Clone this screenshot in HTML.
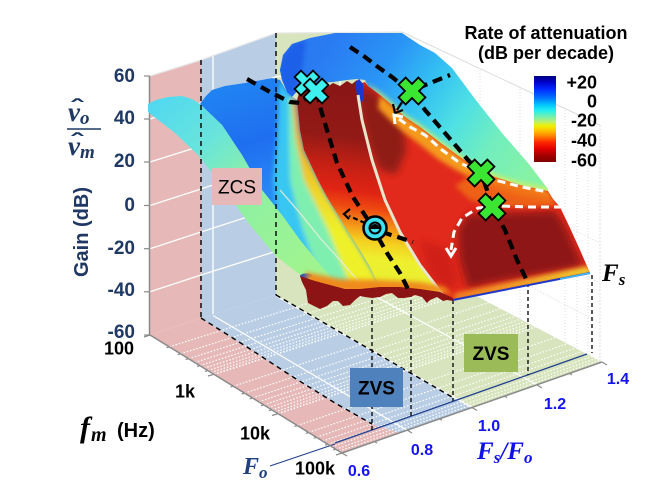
<!DOCTYPE html>
<html><head><meta charset="utf-8">
<style>
html,body{margin:0;padding:0;background:#fff;}
svg{display:block;}
text{font-family:"Liberation Sans",sans-serif;}
.sr{font-family:"Liberation Serif",serif;font-style:italic;font-weight:bold;}
</style></head><body>
<svg width="670" height="500" viewBox="0 0 670 500" xmlns="http://www.w3.org/2000/svg">
<defs>
<linearGradient id="cb" x1="0" y1="0" x2="0" y2="1">
<stop offset="0" stop-color="#00007f"/><stop offset=".07" stop-color="#0000c8"/><stop offset=".15" stop-color="#0028ff"/><stop offset=".25" stop-color="#0070ff"/><stop offset=".33" stop-color="#00c0ff"/><stop offset=".4" stop-color="#20f0f0"/><stop offset=".47" stop-color="#70f0b0"/><stop offset=".53" stop-color="#b8f070"/><stop offset=".58" stop-color="#f0f000"/><stop offset=".64" stop-color="#ffc000"/><stop offset=".7" stop-color="#ff8000"/><stop offset=".77" stop-color="#ff2800"/><stop offset=".85" stop-color="#e00000"/><stop offset=".93" stop-color="#a00000"/><stop offset="1" stop-color="#800000"/>
</linearGradient>
<linearGradient id="gS1" gradientUnits="userSpaceOnUse" x1="150" y1="100" x2="300" y2="270">
<stop offset="0" stop-color="#50d8f2"/><stop offset=".3" stop-color="#68e4dc"/><stop offset=".55" stop-color="#8cf0a4"/><stop offset="1" stop-color="#a0f490"/>
</linearGradient>
<linearGradient id="gS2" gradientUnits="userSpaceOnUse" x1="240" y1="80" x2="280" y2="200">
<stop offset="0" stop-color="#2084f2"/><stop offset=".5" stop-color="#1f6ef0"/><stop offset="1" stop-color="#2a8ef6"/>
</linearGradient>
<linearGradient id="gY" gradientUnits="userSpaceOnUse" x1="0" y1="100" x2="0" y2="230">
<stop offset="0" stop-color="#f09020"/><stop offset="1" stop-color="#eef02c"/>
</linearGradient>
<linearGradient id="gS3" gradientUnits="userSpaceOnUse" x1="360" y1="90" x2="335" y2="290">
<stop offset="0" stop-color="#8a1616"/><stop offset=".24" stop-color="#921a16"/><stop offset=".38" stop-color="#c42014"/><stop offset=".5" stop-color="#e02414"/><stop offset=".58" stop-color="#ee4a10"/><stop offset=".66" stop-color="#f49018"/><stop offset=".74" stop-color="#f4d020"/><stop offset=".82" stop-color="#eef02e"/><stop offset=".94" stop-color="#e8ee30"/><stop offset="1" stop-color="#f0b020"/>
</linearGradient>
<linearGradient id="gS5" gradientUnits="userSpaceOnUse" x1="330" y1="40" x2="525" y2="180">
<stop offset="0" stop-color="#2a7af2"/><stop offset=".25" stop-color="#2a94f6"/><stop offset=".45" stop-color="#34c2f2"/><stop offset=".62" stop-color="#4ee0e4"/><stop offset=".8" stop-color="#72eebe"/><stop offset="1" stop-color="#86f2a6"/>
</linearGradient>
<linearGradient id="gEdge" gradientUnits="userSpaceOnUse" x1="455" y1="0" x2="590" y2="0">
<stop offset="0" stop-color="#f08020"/><stop offset="1" stop-color="#f0d030"/>
</linearGradient>
<filter id="bl" x="-20%" y="-20%" width="140%" height="140%"><feGaussianBlur stdDeviation="2.5"/></filter>
<filter id="bl2" x="-20%" y="-20%" width="140%" height="140%"><feGaussianBlur stdDeviation="4"/></filter>
<clipPath id="cS2"><polygon points="200,104 206,96 212,90 225,86 245,83 262,80 272,78 280,80 287,92 292,97 297,100 300,130 304,150 310,163 318,180 327,197 338,215 347,230 360,250 370,267 380,285 335,285 318,262 300,240 282,215 262,190 242,155 222,125"/></clipPath>
<clipPath id="cS4"><polygon points="357,85 365,82 368,86 380,95 393,106 405,117 420,127 442,144 460,157 475,167 495,177 520,185 548,191 553,199 560,207 570,228 580,250 590,273 453,300 445,297 420,265 400,232 385,200 372,160 362,120 358,95"/></clipPath>
<clipPath id="cS5"><polygon points="280,70 283,55 292,44 310,38 335,33 402,33 420,45 435,53 452,68 475,99 502,133 528,163 548,189 548,191 520,185 495,177 475,167 460,157 442,144 420,127 405,117 393,106 380,95 368,86 365,80 357,79 347,80 333,82 318,83 306,85 298,90 292,97 287,92 282,80"/></clipPath>
</defs>

<rect width="670" height="500" fill="#fff"/>

<!-- right wall faint grid -->
<g stroke="#dcdcdc" stroke-width="1" fill="none">
<line x1="402" y1="32" x2="600" y2="125"/>
<line x1="480" y1="70" x2="480" y2="300" stroke-dasharray="1 2"/>
<line x1="520" y1="89" x2="520" y2="320" stroke-dasharray="1 2"/>
<line x1="565" y1="110" x2="565" y2="345" stroke-dasharray="1 2"/>
<line x1="577" y1="115" x2="577" y2="350" stroke-dasharray="1 2"/>
<line x1="588" y1="120" x2="588" y2="356" stroke-dasharray="1 2"/>
<line x1="600" y1="125" x2="600" y2="362" stroke-dasharray="2 1.5"/>
<line x1="402" y1="144" x2="600" y2="243" stroke-dasharray="1 2"/>
<line x1="402" y1="182" x2="600" y2="283" stroke-dasharray="1 2"/>
<line x1="402" y1="219" x2="600" y2="323" stroke-dasharray="1 2"/>
</g>

<!-- back walls -->
<polygon points="150,76 201,60 201,318 150,335" fill="#e6b9b8"/>
<polygon points="201,60 276,33 276,295 201,318" fill="#b9cde5"/>
<polygon points="276,33 402,32 402,257 276,295" fill="#d7e4bd"/>
<g stroke="#fff" stroke-width="1.3" fill="none">
<polyline points="150,119 201,103 276,76.7 402,69.5"/>
<polyline points="150,162 201,146 276,120.3 402,107"/>
<polyline points="150,205.5 201,189 276,164 402,144.5"/>
<polyline points="150,248.7 201,232 276,207.7 402,182"/>
<polyline points="150,291.8 201,275 276,251.3 402,219.5"/>
<line x1="213" y1="56" x2="213" y2="314"/>
<line x1="340" y1="32" x2="340" y2="276"/>
<polyline points="150,76 201,60 276,33 402,32" stroke="#e8e8e8"/>
</g>

<!-- floor -->
<polygon points="150,335 201,318 247,347 293,377 335,403 372,424 400,433 342,453" fill="#e6b9b8"/>
<polygon points="201,318 276,295 452,397 472,408 400,433 372,424 335,403 293,377 247,347" fill="#b9cde5"/>
<polygon points="276,295 402,257 602,362 472,408 452,397" fill="#d7e4bd"/>
<g stroke="#fff" stroke-width="1.2" stroke-dasharray="1.5 1.8" fill="none">
<line x1="169.3" y1="346.8" x2="422.1" y2="267.5"/>
<line x1="180.5" y1="353.8" x2="433.8" y2="273.7"/>
<line x1="188.5" y1="358.7" x2="442.1" y2="278.1"/>
<line x1="194.7" y1="362.5" x2="448.6" y2="281.5"/>
<line x1="199.8" y1="365.6" x2="453.9" y2="284.2"/>
<line x1="204.1" y1="368.2" x2="458.3" y2="286.6"/>
<line x1="207.8" y1="370.5" x2="462.2" y2="288.6"/>
<line x1="211.1" y1="372.5" x2="465.6" y2="290.4"/>
<line x1="214" y1="374.3" x2="468.7" y2="292" stroke-width="1.6"/>
<line x1="233.3" y1="386.2" x2="488.7" y2="302.5"/>
<line x1="244.5" y1="393.1" x2="500.5" y2="308.7"/>
<line x1="252.5" y1="398" x2="508.8" y2="313.1"/>
<line x1="258.7" y1="401.8" x2="515.2" y2="316.4"/>
<line x1="263.8" y1="404.9" x2="520.5" y2="319.2"/>
<line x1="268.1" y1="407.6" x2="525" y2="321.6"/>
<line x1="271.7" y1="409.8" x2="528.8" y2="323.6"/>
<line x1="275" y1="411.8" x2="532.2" y2="325.4"/>
<line x1="278" y1="413.7" x2="535.3" y2="327" stroke-width="1.6"/>
<line x1="297.3" y1="425.5" x2="555.4" y2="337.5"/>
<line x1="308.6" y1="432.5" x2="567.2" y2="343.7"/>
<line x1="316.5" y1="437.3" x2="575.4" y2="348"/>
<line x1="322.6" y1="441.1" x2="581.8" y2="351.4"/>
<line x1="327.8" y1="444.3" x2="587.2" y2="354.2"/>
<line x1="332" y1="446.9" x2="591.6" y2="356.5"/>
<line x1="335.9" y1="449.2" x2="595.6" y2="358.6"/>
<line x1="339.1" y1="451.2" x2="599" y2="360.4"/>
</g>
<g stroke="#fff" stroke-width="1.2" fill="none">
<line x1="213" y1="315.5" x2="407" y2="430.3"/>
<line x1="276" y1="296" x2="472" y2="407.5"/>
<line x1="339" y1="276.5" x2="537" y2="384.8"/>
</g>
<!-- floor boundaries -->
<g stroke="#000" stroke-width="1.4" stroke-dasharray="5 4" fill="none">
<polyline points="201,318 247,347 293,377 335,403 372,424"/>
<polyline points="276,295 452,397"/>
</g>
<line x1="335" y1="443" x2="587" y2="354" stroke="#1f3f8f" stroke-width="1.3"/>
<line x1="270" y1="466" x2="335" y2="444" stroke="#1f3f8f" stroke-width="1"/>

<!-- axes -->
<g stroke="#8a8a8a" stroke-width="1.5" fill="none">
<line x1="149.5" y1="76" x2="149.5" y2="336"/>
<line x1="150" y1="335" x2="342" y2="453"/>
<line x1="342" y1="453" x2="602" y2="362"/>
</g>
<g stroke="#8a8a8a" stroke-width="1.2">
<line x1="144" y1="76" x2="150" y2="76"/><line x1="144" y1="119" x2="150" y2="119"/><line x1="144" y1="162" x2="150" y2="162"/><line x1="144" y1="205.5" x2="150" y2="205.5"/><line x1="144" y1="248.7" x2="150" y2="248.7"/><line x1="144" y1="291.8" x2="150" y2="291.8"/><line x1="144" y1="335" x2="150" y2="335"/>
<line x1="150" y1="335" x2="144" y2="337"/><line x1="214" y1="374.3" x2="208" y2="376"/><line x1="278" y1="413.7" x2="272" y2="415.5"/><line x1="342" y1="453" x2="336" y2="455"/>
<line x1="169.3" y1="346.8" x2="166.5" y2="347.7"/><line x1="180.5" y1="353.8" x2="177.7" y2="354.7"/><line x1="188.5" y1="358.7" x2="185.7" y2="359.6"/><line x1="199.8" y1="365.6" x2="197" y2="366.5"/><line x1="207.8" y1="370.5" x2="205" y2="371.4"/>
<line x1="233.3" y1="386.2" x2="230.5" y2="387.1"/><line x1="244.5" y1="393.1" x2="241.7" y2="394"/><line x1="252.5" y1="398" x2="249.7" y2="398.9"/><line x1="263.8" y1="404.9" x2="261" y2="405.8"/><line x1="271.7" y1="409.8" x2="268.9" y2="410.7"/>
<line x1="297.3" y1="425.5" x2="294.5" y2="426.4"/><line x1="308.6" y1="432.5" x2="305.8" y2="433.4"/><line x1="316.5" y1="437.3" x2="313.7" y2="438.2"/><line x1="327.8" y1="444.3" x2="325" y2="445.2"/><line x1="335.9" y1="449.2" x2="333.1" y2="450.1"/>
<line x1="342" y1="453" x2="347" y2="456"/><line x1="407" y1="430" x2="412" y2="433"/><line x1="472" y1="407.5" x2="477" y2="410.5"/><line x1="537" y1="385" x2="542" y2="388"/><line x1="602" y1="362" x2="607" y2="365"/>
<line x1="374.5" y1="441.6" x2="377" y2="443"/><line x1="439.5" y1="418.8" x2="442" y2="420.2"/><line x1="504.5" y1="396.2" x2="507" y2="397.6"/><line x1="569.5" y1="373.4" x2="572" y2="374.8"/>
</g>

<!-- vertical drop lines -->
<g stroke="#000" stroke-width="1.3" stroke-dasharray="4 3">
<line x1="372" y1="293" x2="372" y2="430"/>
<line x1="411" y1="293" x2="411" y2="416"/>
<line x1="453" y1="300" x2="453" y2="401"/>
<line x1="528" y1="283" x2="528" y2="375"/>
<line x1="592" y1="275" x2="592" y2="353"/>
</g>

<!-- ===== SURFACE ===== -->
<!-- plateau -->
<polygon points="280,70 283,55 292,44 310,38 335,33 402,33 420,45 435,53 452,68 475,99 502,133 528,163 548,189 548,191 520,185 495,177 475,167 460,157 442,144 420,127 405,117 393,106 380,95 368,86 365,80 357,79 347,80 333,82 318,83 306,85 298,90 292,97 287,92 282,80" fill="url(#gS5)"/>
<g clip-path="url(#cS5)">
<polygon points="278,70 283,55 292,44 306,40 302,70 294,98 287,95 281,82" fill="#1a5ee8" filter="url(#bl)"/>
<polygon points="365,82 380,92 393,103 405,114 420,124 442,141 460,154 475,164 495,174 520,182 550,188 550,194 500,184 460,162 420,132 380,100" fill="#d8f060" filter="url(#bl)" opacity=".8"/>
</g>

<!-- blue band + strips -->
<g clip-path="url(#cS2)">
<rect x="195" y="70" width="200" height="220" fill="url(#gS2)"/>
<g filter="url(#bl)">
<polygon points="280,80 287,92 292,97 297,100 300,130 304,150 310,163 318,180 327,197 338,215 347,230 360,250 370,267 380,285 305,290 305,280 290,255 280,230 276,205 273,180 277,140 279,92" fill="#38c6f2"/>
<polygon points="289,96 292,97 297,100 300,130 304,150 310,163 318,180 327,197 338,215 347,230 360,250 370,267 380,285 322,290 322,280 312,255 303,230 296,205 290,180 289,140" fill="#7fefb0"/>
<polygon points="292,97 297,100 300,130 304,150 310,163 318,180 327,197 338,215 347,230 360,250 370,267 380,285 350,290 348,280 338,255 328,230 316,205 304,180 296,140" fill="url(#gY)"/>
</g>
</g>

<!-- left valley -->
<polygon points="297,100 300,90 306,86 312,90 318,84 326,88 333,83 340,86 347,81 352,84 357,80 361,90 358,95 362,120 372,160 385,200 400,232 420,265 445,298 380,288 370,267 360,250 347,230 338,215 327,197 318,180 310,163 304,150 300,130" fill="url(#gS3)"/>

<!-- right-of-pale region -->
<polygon points="357,85 365,82 368,86 380,95 393,106 405,117 420,127 442,144 460,157 475,167 495,177 520,185 548,191 553,199 560,207 570,228 580,250 590,273 453,300 445,297 420,265 400,232 385,200 372,160 362,120 358,95" fill="#e22a1c"/>
<g clip-path="url(#cS4)">
<polygon points="355,82 372,90 392,108 404,128 406,152 396,174 380,170 370,150 361,120" fill="#901a17" filter="url(#bl2)"/>
<polygon points="380,95 393,106 405,117 420,127 442,144 460,157 475,167 495,177 520,185 548,191 552,202 520,196 495,188 475,180 456,170 438,159 418,143 402,131 390,120 378,108" fill="#f49a1e" filter="url(#bl)"/>
<polygon points="470,175 548,194 558,206 525,208 495,206 470,200 455,186" fill="#f06a18" filter="url(#bl)" opacity=".85"/>
<polygon points="468,214 555,211 565,226 578,255 583,266 540,274 495,282 468,288 460,260 458,230" fill="#8e1616" filter="url(#bl2)"/>
<polygon points="420,240 450,250 458,280 448,292 430,275" fill="#c81a16" filter="url(#bl2)" opacity=".7"/>
<polygon points="455,293 588,266 592,274 453,301" fill="url(#gEdge)" filter="url(#bl)"/>
</g>
<line x1="453" y1="300" x2="590" y2="273" stroke="#2038c8" stroke-width="2"/>
<line x1="560" y1="279" x2="590" y2="273" stroke="#40c0f0" stroke-width="1.5"/>

<!-- green sheet -->
<polygon points="148,104 156,100 168,97 182,96 192,99 200,104 222,125 242,155 262,190 282,215 300,240 318,262 335,282 320,285 305,280 300,275 275,255 250,225 225,190 200,157 175,133 148,112" fill="url(#gS1)"/>

<!-- blue spikes & details -->
<polygon points="355,83 359,79 363,84 363,100 360,105 357,95" fill="#1838d0"/>
<ellipse cx="306" cy="276" rx="6" ry="2.5" fill="#1030c0" opacity=".8"/>

<!-- pale lines -->
<polyline points="358,95 362,120 372,160 385,200 400,232 420,265 443,295" fill="none" stroke="#e8e6cc" stroke-width="3"/>
<polyline points="280,190 300,213 320,238 340,260 360,283" fill="none" stroke="#e6ecd8" stroke-width="1.5" opacity=".8"/>

<!-- bottom fringe -->
<polygon points="305,272 340,279 380,280 420,282 445,287 453,296 445,293 400,291 350,293 310,286" fill="#f08a1c" filter="url(#bl)"/>
<polygon points="300,276 315,281 330,285 345,289 360,289 380,287 400,287 420,289 440,292 453,298 453,301 447,300 443,301 437,297 430,300 427,303 422,297 415,295 410,297 404,298 398,298 392,293 386,294 380,297 372,298 365,297 360,296 355,300 350,305 343,306 338,301 333,301 327,306 320,309 314,306 308,303 306,290 302,282" fill="#8c1414"/>

<!-- wall dashed boundaries (on top) -->
<g stroke="#000" stroke-width="1.4" stroke-dasharray="5 4">
<line x1="201" y1="60" x2="201" y2="318"/>
<line x1="276" y1="33" x2="276" y2="295"/>
</g>

<!-- thick dashed paths -->
<g fill="none" stroke="#000" stroke-width="4.2" stroke-dasharray="10 6" stroke-linejoin="round">
<polyline points="247,79 270,92 290,102 300,103 312,94"/>
<polyline points="317,92 321,110 327,130 337,163 353,197 370,223 387,253 400,273 410,293"/>
<polyline points="350,47 365,57 378,67 392,77 402,85 412,92 425,110 445,133 468,160 481,173 487,190 492,207 505,230 517,260 528,283"/>
<line x1="418" y1="88" x2="450" y2="75"/>
<line x1="382" y1="232" x2="413" y2="242"/>
</g>
<g fill="none" stroke="#000" stroke-width="2.2">
<line x1="365" y1="223" x2="349" y2="216" stroke-dasharray="5 3"/>
<polyline points="350,209 344,214 349,219"/>
<line x1="404" y1="99" x2="397" y2="110"/>
<polyline points="393,104 395,113 403,110"/>
</g>
<!-- white dashed -->
<g fill="none" stroke="#fff" stroke-width="3" stroke-dasharray="8 5" stroke-linejoin="round">
<polyline points="399,119 410,127 425,135 442,150 460,163 475,170 495,180 522,187 548,192"/>
<polyline points="562,207 530,207 500,206 478,208 462,218 454,232 451,250"/>
</g>
<g fill="none" stroke="#fff" stroke-width="3">
<polyline points="395,124 394,115 403,117"/>
<polyline points="446,248 451,256 456,248"/>
</g>

<!-- markers -->
<g stroke="#000" stroke-width="1.8" stroke-linejoin="miter">
<polygon transform="translate(307,83) rotate(45)" points="-4.5,-13 4.5,-13 4.5,-4.5 13,-4.5 13,4.5 4.5,4.5 4.5,13 -4.5,13 -4.5,4.5 -13,4.5 -13,-4.5 -4.5,-4.5" fill="#3ff0f0"/>
<polygon transform="translate(316,91) rotate(45)" points="-4.5,-13 4.5,-13 4.5,-4.5 13,-4.5 13,4.5 4.5,4.5 4.5,13 -4.5,13 -4.5,4.5 -13,4.5 -13,-4.5 -4.5,-4.5" fill="#3ff0f0"/>
<polygon transform="translate(412,91) rotate(45)" points="-5,-14 5,-14 5,-5 14,-5 14,5 5,5 5,14 -5,14 -5,5 -14,5 -14,-5 -5,-5" fill="#3ae632"/>
<polygon transform="translate(481,173) rotate(45)" points="-5,-14 5,-14 5,-5 14,-5 14,5 5,5 5,14 -5,14 -5,5 -14,5 -14,-5 -5,-5" fill="#3ae632"/>
<polygon transform="translate(492,207) rotate(45)" points="-5,-14 5,-14 5,-5 14,-5 14,5 5,5 5,14 -5,14 -5,5 -14,5 -14,-5 -5,-5" fill="#3ae632"/>
</g>
<circle cx="375" cy="228" r="11.5" fill="#3ee0f0" stroke="#000" stroke-width="2.5"/>
<circle cx="375" cy="228" r="5.5" fill="none" stroke="#000" stroke-width="2"/>
<path d="M370,229 A5,5 0 0 1 380,229 Z" fill="#000"/>

<!-- region labels -->
<rect x="212" y="168" width="50" height="37" fill="#e6b9b8"/>
<text x="237" y="193.5" font-size="19" text-anchor="middle" fill="#000">ZCS</text>
<rect x="350" y="368" width="53" height="39" fill="#4f81bd"/>
<text x="376.5" y="394.5" font-size="19" font-weight="bold" text-anchor="middle" fill="#000">ZVS</text>
<rect x="464" y="334" width="54" height="38" fill="#9bbb59"/>
<text x="491" y="360" font-size="19" font-weight="bold" text-anchor="middle" fill="#000">ZVS</text>

<!-- gain axis labels -->
<g font-size="19" font-weight="bold" fill="#1f3864" text-anchor="end">
<text x="135" y="82">60</text><text x="135" y="124">40</text><text x="135" y="167">20</text><text x="135" y="211">0</text><text x="135" y="254">-20</text><text x="135" y="296">-40</text><text x="135" y="338">-60</text>
</g>
<text transform="translate(88,232) rotate(-90)" font-size="20" font-weight="bold" fill="#1f3864" text-anchor="middle">Gain (dB)</text>
<text x="68" y="121" class="sr" font-size="27" fill="#1f3864">v<tspan font-size="19" dy="3">o</tspan></text>
<text transform="translate(77,115) scale(1.6,1)" font-family="Liberation Serif,serif" font-size="22" font-weight="bold" fill="#1f3864" text-anchor="middle">ˆ</text>
<line x1="67" y1="129" x2="101" y2="129" stroke="#1f3864" stroke-width="1.6"/>
<text x="68" y="155" class="sr" font-size="27" fill="#1f3864">v<tspan font-size="19" dy="3">m</tspan></text>
<text transform="translate(77,149) scale(1.6,1)" font-family="Liberation Serif,serif" font-size="22" font-weight="bold" fill="#1f3864" text-anchor="middle">ˆ</text>

<!-- fm axis labels -->
<g font-size="18" font-weight="bold" fill="#000" text-anchor="middle">
<text x="119" y="354.5">100</text><text x="185" y="397.5">1k</text><text x="255" y="439.5">10k</text><text x="315" y="474.5">100k</text>
</g>
<text x="80" y="437" class="sr" font-size="30" fill="#000">f<tspan font-size="20" dx="1" dy="4">m</tspan></text>
<text x="117" y="437" font-size="20" font-weight="bold" fill="#000">(Hz)</text>
<text x="243" y="474" class="sr" font-size="24" fill="#1f3f7f">F<tspan font-size="17" dy="4">o</tspan></text>

<!-- Fs/Fo axis labels -->
<g font-size="16" font-weight="bold" fill="#1414f0" text-anchor="middle">
<text x="359" y="476">0.6</text><text x="422" y="455">0.8</text><text x="489" y="431">1.0</text><text x="555" y="409">1.2</text><text x="618" y="384">1.4</text>
</g>
<text x="477" y="459" class="sr" font-size="25" fill="#1010e8">F<tspan font-size="17" dy="4">s</tspan><tspan dy="-4">/F</tspan><tspan font-size="17" dy="4">o</tspan></text>
<text x="602" y="281" class="sr" font-size="25" fill="#000">F<tspan font-size="17" dy="4">s</tspan></text>

<!-- colorbar -->
<text x="546" y="39" font-size="18" font-weight="bold" text-anchor="middle" fill="#000">Rate of attenuation</text>
<text x="546" y="59" font-size="18" font-weight="bold" text-anchor="middle" fill="#000">(dB per decade)</text>
<rect x="534" y="76" width="22" height="86" fill="url(#cb)"/>
<g font-size="18" font-weight="bold" fill="#000" text-anchor="end">
<text x="597" y="88.5">+20</text><text x="597" y="107.5">0</text><text x="597" y="126.5">-20</text><text x="597" y="146.5">-40</text><text x="597" y="166.5">-60</text>
</g>
</svg>
</body></html>
